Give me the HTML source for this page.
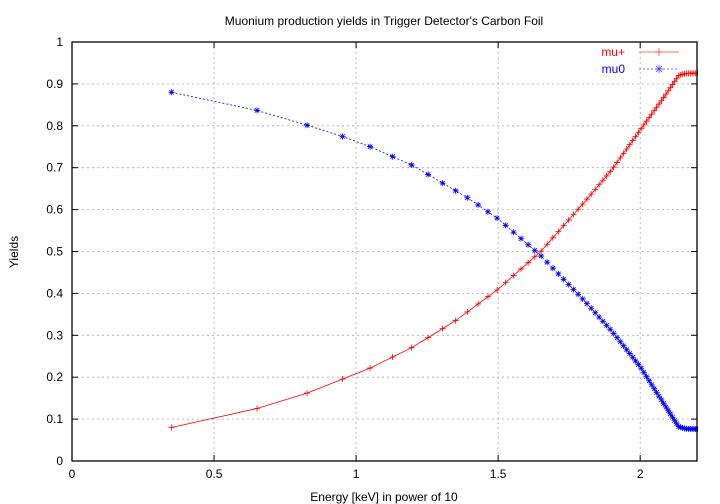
<!DOCTYPE html>
<html><head><meta charset="utf-8"><style>
html,body{margin:0;padding:0;background:#fff}
svg{display:block;font-family:"Liberation Sans",sans-serif}
</style></head><body>
<svg id="s" width="720" height="504" xmlns="http://www.w3.org/2000/svg">
<defs><clipPath id="c"><rect x="72" y="42" width="626" height="420"/></clipPath></defs>
<rect width="720" height="504" fill="#fff"/>
<text x="384" y="25" font-size="12" text-anchor="middle">Muonium production yields in Trigger Detector's Carbon Foil</text>
<text x="18" y="252" font-size="12" text-anchor="middle" transform="rotate(-90 18 252)">Yields</text>
<text x="384" y="501" font-size="12" text-anchor="middle">Energy [keV] in power of 10</text>
<g id="grid"></g>
<g id="data" clip-path="url(#c)"></g>
<rect x="72" y="42" width="625" height="419" fill="none" stroke="#000" stroke-width="1.3"/>
<g font-size="12">
<text x="625" y="56" text-anchor="end" fill="#f00">mu+</text>
<line x1="639" y1="52" x2="679" y2="52" stroke="#f44" stroke-width="0.7"/>
<path d="M659 48v8M655 52h8" stroke="#f44" stroke-width="0.8"/>
<text x="625" y="73" text-anchor="end" fill="#00f">mu0</text>
<line x1="639" y1="69" x2="679" y2="69" stroke="#44f" stroke-width="0.7" stroke-dasharray="2,2"/>
<path d="M659 65v8M655 69h8M656 66l6 6M662 66l-6 6" stroke="#44f" stroke-width="0.8"/>
</g>
</svg>
<script>
var X=v=>72+v*284.1,Y=v=>461-v*419;
var g=document.getElementById('grid'),h='';
for(var i=0;i<=10;i++){var y=Y(i/10);
 if(i>0&&i<10)h+='<line x1="72" x2="697" y1="'+y+'" y2="'+y+'" stroke="#aaa" stroke-dasharray="2,3" stroke-width="0.8"/>';
 h+='<line x1="72" x2="78" y1="'+y+'" y2="'+y+'" stroke="#000"/><line x1="691" x2="697" y1="'+y+'" y2="'+y+'" stroke="#000"/>';
 h+='<text x="63" y="'+(y+4)+'" font-size="12" text-anchor="end">'+(i==0?'0':i==10?'1':'0.'+i)+'</text>';}
for(var j=0;j<=4;j++){var x=X(j*0.5);
 if(j>0)h+='<line y1="42" y2="461" x1="'+x+'" x2="'+x+'" stroke="#aaa" stroke-dasharray="2,3" stroke-width="0.8"/>';
 h+='<line y1="461" y2="455" x1="'+x+'" x2="'+x+'" stroke="#000"/><line y1="42" y2="48" x1="'+x+'" x2="'+x+'" stroke="#000"/>';
 h+='<text y="478" x="'+x+'" font-size="12" text-anchor="middle">'+['0','0.5','1','1.5','2'][j]+'</text>';}
g.innerHTML=h;
function interp(k,x){for(var i=0;i<k.length-1;i++){if(x<=k[i+1][0]){var t=(x-k[i][0])/(k[i+1][0]-k[i][0]);return k[i][1]+t*(k[i+1][1]-k[i][1]);}}return k[k.length-1][1];}
var kp=[[0.35,0.08],[0.65,0.125],[0.82,0.16],[0.95,0.195],[1.05,0.222],[1.2,0.272],[1.35,0.335],[1.5,0.41],[1.65,0.5],[1.8,0.615],[1.9,0.695],[2.0,0.79],[2.08,0.865],[2.135,0.92],[2.16,0.925],[2.3,0.927]];
var k0=[[0.35,0.88],[0.65,0.837],[0.82,0.803],[0.95,0.775],[1.05,0.75],[1.2,0.705],[1.3,0.665],[1.4,0.625],[1.5,0.578],[1.65,0.49],[1.8,0.385],[1.9,0.31],[2.0,0.225],[2.08,0.14],[2.135,0.082],[2.16,0.077],[2.3,0.074]];
var d='',p1='',p0='';
for(var n=1;n<=80;n++){var x=Math.log10(2.24*n);var px=X(x),a=Y(interp(kp,x)),b=Y(interp(k0,x));
 p1+=(n==1?'M':'L')+px.toFixed(1)+' '+a.toFixed(1);p0+=(n==1?'M':'L')+px.toFixed(1)+' '+b.toFixed(1);
 d+='<path d="M'+px+' '+(a-3)+'v6M'+(px-3)+' '+a+'h6" stroke="#f00" stroke-width="0.8"/>';
 d+='<path d="M'+px+' '+(b-3)+'v6M'+(px-3)+' '+b+'h6M'+(px-2.2)+' '+(b-2.2)+'l4.4 4.4M'+(px+2.2)+' '+(b-2.2)+'l-4.4 4.4" stroke="#00f" stroke-width="0.8"/>';}
document.getElementById('data').innerHTML='<path d="'+p1+'" fill="none" stroke="#f00" stroke-width="0.8"/><path d="'+p0+'" fill="none" stroke="#00f" stroke-width="0.8" stroke-dasharray="2,2"/>'+d;
</script>
</body></html>
